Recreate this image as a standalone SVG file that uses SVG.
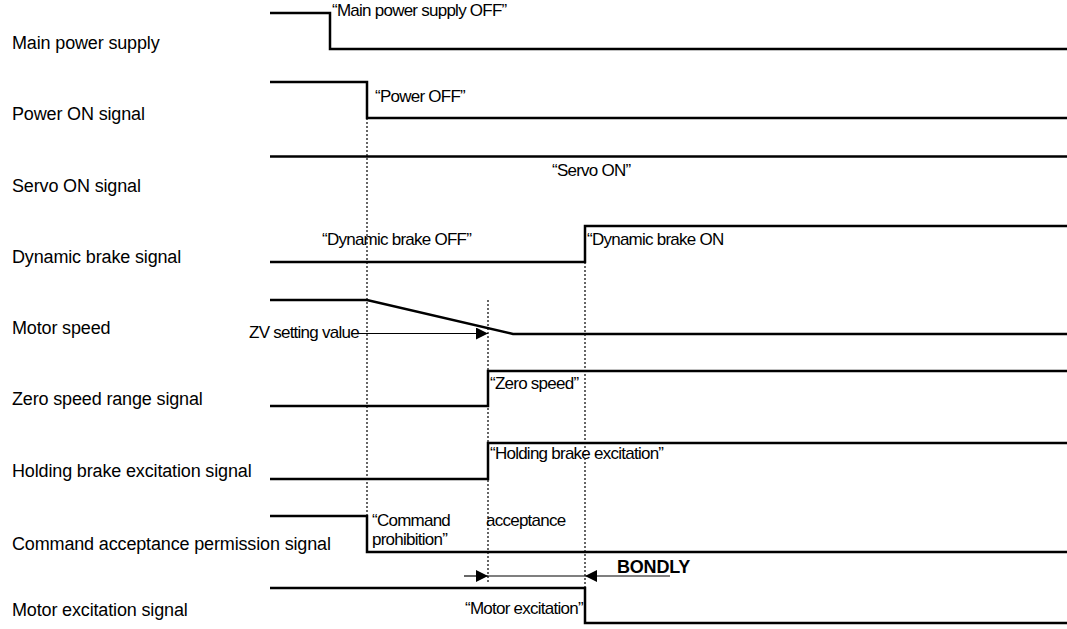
<svg xmlns="http://www.w3.org/2000/svg" width="1067" height="629" viewBox="0 0 1067 629">
  <style>
    .sig { fill: none; stroke: #000; stroke-width: 2.5; stroke-linejoin: miter; }
    .dot { fill: none; stroke: #000; stroke-width: 1.2; stroke-dasharray: 2 2; }
    .thin { fill: none; stroke: #000; stroke-width: 1.2; }
    .lbl { font-family: "Liberation Sans", Arial, sans-serif; font-size: 18px; letter-spacing: -0.15px; fill: #000; }
    .ann { font-family: "Liberation Sans", Arial, sans-serif; font-size: 17px; letter-spacing: -0.75px; fill: #000; }
    .bold { font-family: "Liberation Sans", Arial, sans-serif; font-size: 18px; font-weight: bold; letter-spacing: -0.2px; fill: #000; }
  </style>
  <defs>
    <marker id="head" viewBox="0 0 12 12" refX="12" refY="6" markerWidth="12" markerHeight="12" markerUnits="userSpaceOnUse" orient="auto">
      <path d="M0,0 L12,6 L0,12 Z" fill="#000"/>
    </marker>
  </defs>
  <rect width="1067" height="629" fill="#fff"/>

  <!-- timing guides and arrows -->
  <g id="connectors">
    <line class="dot" x1="367" y1="118" x2="367" y2="552"/>
    <line class="dot" x1="488" y1="300" x2="488" y2="582"/>
    <line class="dot" x1="585" y1="262" x2="585" y2="588"/>
    <line class="thin" x1="357" y1="333.5" x2="488" y2="333.5" marker-end="url(#head)"/>
    <line class="thin" x1="464" y1="576" x2="488" y2="576" marker-end="url(#head)"/>
    <line class="thin" x1="488" y1="576" x2="585" y2="576"/>
    <line class="thin" x1="670" y1="576" x2="585" y2="576" marker-end="url(#head)"/>
  </g>

  <g id="main-power-supply">
    <text class="lbl" x="12" y="49">Main power supply</text>
    <polyline class="sig" points="270,13 330,13 330,49 1067,49"/>
    <text class="ann" x="332" y="16">“Main power supply OFF”</text>
  </g>

  <g id="power-on-signal">
    <text class="lbl" x="12" y="120">Power ON signal</text>
    <polyline class="sig" points="270,82 367,82 367,118 1067,118"/>
    <text class="ann" x="375" y="102">“Power OFF”</text>
  </g>

  <g id="servo-on-signal">
    <text class="lbl" x="12" y="192">Servo ON signal</text>
    <line class="sig" x1="270" y1="156.5" x2="1067" y2="156.5"/>
    <text class="ann" x="552" y="176">“Servo ON”</text>
  </g>

  <g id="dynamic-brake-signal">
    <text class="lbl" x="12" y="263">Dynamic brake signal</text>
    <polyline class="sig" points="270,262 585,262 585,226 1067,226"/>
    <text class="ann" x="322" y="245">“Dynamic brake OFF”</text>
    <text class="ann" x="587" y="245">“Dynamic brake ON</text>
  </g>

  <g id="motor-speed">
    <text class="lbl" x="12" y="334">Motor speed</text>
    <polyline class="sig" points="270,300 367,300 513,334 1067,334"/>
    <text class="ann" x="249" y="338">ZV setting value</text>
  </g>

  <g id="zero-speed-range-signal">
    <text class="lbl" x="12" y="405">Zero speed range signal</text>
    <polyline class="sig" points="270,406 488,406 488,371 1067,371"/>
    <text class="ann" x="490" y="389">“Zero speed”</text>
  </g>

  <g id="holding-brake-excitation-signal">
    <text class="lbl" x="12" y="477">Holding brake excitation signal</text>
    <polyline class="sig" points="270,479 488,479 488,443 1067,443"/>
    <text class="ann" x="490" y="459">“Holding brake excitation”</text>
  </g>

  <g id="command-acceptance-permission-signal">
    <text class="lbl" x="12" y="550">Command acceptance permission signal</text>
    <polyline class="sig" points="270,516 367,516 367,552 1067,552"/>
    <text class="ann" x="372" y="526">“Command</text>
    <text class="ann" x="372" y="545">prohibition”</text>
    <text class="ann" x="486" y="526">acceptance</text>
    <text class="bold" x="617" y="573">BONDLY</text>
  </g>

  <g id="motor-excitation-signal">
    <text class="lbl" x="12" y="616">Motor excitation signal</text>
    <polyline class="sig" points="270,588 585,588 585,623 1067,623"/>
    <text class="ann" x="465" y="614">“Motor excitation”</text>
  </g>
</svg>
